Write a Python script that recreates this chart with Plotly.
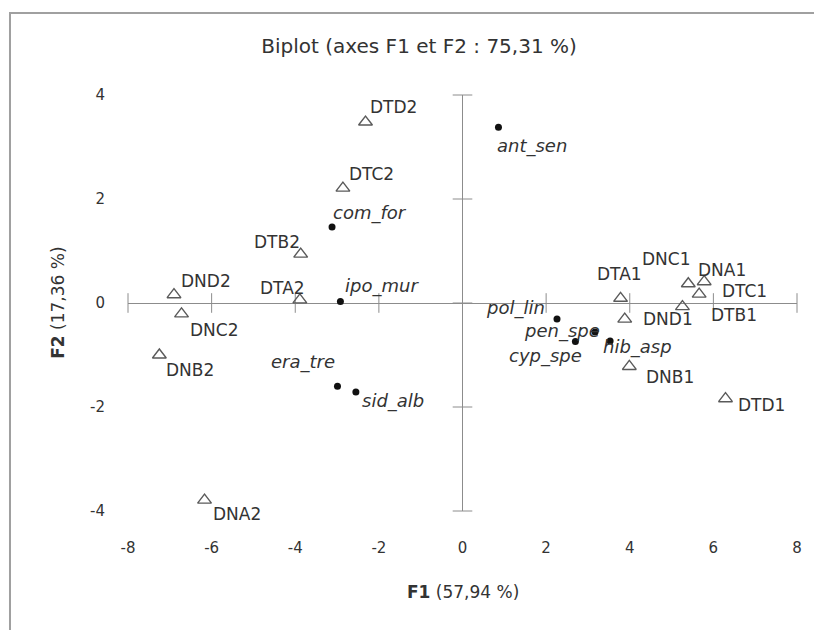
import plotly.graph_objects as go

# ---- data ----
obs_names = ["DNA1", "DNB1", "DNC1", "DND1", "DTA1", "DTB1", "DTC1", "DTD1",
             "DNA2", "DNB2", "DNC2", "DND2", "DTA2", "DTB2", "DTC2", "DTD2"]
obs_f1 = [5.78, 3.99, 5.40, 3.88, 3.78, 5.26, 5.66, 6.29,
          -6.17, -7.25, -6.72, -6.90, -3.89, -3.87, -2.86, -2.32]
obs_f2 = [0.41, -1.22, 0.37, -0.31, 0.09, -0.07, 0.17, -1.84,
          -3.79, -1.00, -0.21, 0.16, 0.06, 0.94, 2.21, 3.48]

sp_names = ["ant_sen", "com_for", "ipo_mur", "era_tre", "sid_alb",
            "pol_lin", "pen_spe", "cyp_spe", "hib_asp"]
sp_f1 = [0.86, -3.12, -2.92, -2.99, -2.55, 2.26, 3.17, 2.70, 3.53]
sp_f2 = [3.38, 1.46, 0.03, -1.60, -1.71, -0.31, -0.56, -0.74, -0.73]

x_ticks = [-8, -6, -4, -2, 0, 2, 4, 6, 8]
x_tick_labels = ["-8", "-6", "-4", "-2", "0", "2", "4", "6", "8"]
y_ticks = [-4, -2, 0, 2, 4]
y_tick_labels = ["-4", "-2", "0", "2", "4"]

title_text = "Biplot (axes F1 et F2 : 75,31 %)"
x_title = "<b>F1</b> (57,94 %)"
y_title = "<b>F2</b> (17,36 %)"

# ---- label offsets (pixels: dx right, dy down) ----
obs_off = [(18, -12), (41, 11), (-22, -25), (43, 0), (-1, -24), (52, 8), (45, -3), (36, 6),
           (32, 14), (31, 15), (33, 16), (32, -14), (-17, -12), (-24, -12), (29, -14), (28, -15)]
sp_off = [(34, 19), (38, -14), (42, -15), (-34, -24), (37, 9),
          (-42, -11), (-33, -1), (-30, 15), (27, 6)]

FONT = "DejaVu Sans"
AXIS_COL = "#8c8c8c"
TXT_COL = "#333333"

fig = go.Figure()

# crossing tick marks on the zero axes
fig.add_trace(go.Scatter(
    x=x_ticks, y=[0] * len(x_ticks), mode="markers",
    marker=dict(symbol="line-ns", size=14, line=dict(color=AXIS_COL, width=1)),
    cliponaxis=False, hoverinfo="skip", showlegend=False))
fig.add_trace(go.Scatter(
    x=[0] * len(y_ticks), y=y_ticks, mode="markers",
    marker=dict(symbol="line-ew", size=14, line=dict(color=AXIS_COL, width=1)),
    cliponaxis=False, hoverinfo="skip", showlegend=False))

# observations
fig.add_trace(go.Scatter(
    x=obs_f1, y=obs_f2, mode="markers", name="Observations",
    marker=dict(symbol="triangle-up-open", size=12, color="#5a5a5a",
                line=dict(width=1.4)),
    text=obs_names, showlegend=False))

# variables (species)
fig.add_trace(go.Scatter(
    x=sp_f1, y=sp_f2, mode="markers", name="Variables",
    marker=dict(symbol="circle", size=7, color="#111111"),
    text=sp_names, showlegend=False))

annotations = []
for n, x, y, (dx, dy) in zip(obs_names, obs_f1, obs_f2, obs_off):
    annotations.append(dict(x=x, y=y, xref="x", yref="y", text=n, showarrow=False,
                            xshift=dx, yshift=-dy,
                            font=dict(family=FONT, size=17, color=TXT_COL)))
for n, x, y, (dx, dy) in zip(sp_names, sp_f1, sp_f2, sp_off):
    annotations.append(dict(x=x, y=y, xref="x", yref="y", text="<i>%s</i>" % n,
                            showarrow=False, xshift=dx, yshift=-dy,
                            font=dict(family=FONT, size=18, color=TXT_COL)))

# axis titles
annotations.append(dict(x=0.5, y=-0.195, xref="paper", yref="paper", text=x_title,
                        showarrow=False, xanchor="center", yanchor="middle",
                        font=dict(family=FONT, size=17, color=TXT_COL)))
annotations.append(dict(x=-0.105, y=0.5, xref="paper", yref="paper", text=y_title,
                        showarrow=False, textangle=-90, xanchor="center", yanchor="middle",
                        font=dict(family=FONT, size=17, color=TXT_COL)))

# page body has an 8px margin, so the figure is sized/offset to compensate
fig.update_layout(
    width=814, height=622,
    margin=dict(l=120, r=25, t=87, b=119),
    paper_bgcolor="white", plot_bgcolor="white",
    title=dict(text=title_text, x=0.505, xanchor="center", y=0.939, yanchor="middle",
               font=dict(family=FONT, size=20, color=TXT_COL)),
    annotations=annotations,
    shapes=[dict(type="rect", xref="paper", yref="paper",
                 x0=-0.1764, y0=-0.35, x1=1.1, y1=1.197,
                 line=dict(color="#a0a0a0", width=2), fillcolor="rgba(0,0,0,0)",
                 layer="below")],
    font=dict(family=FONT, color=TXT_COL),
)

fig.update_xaxes(range=[-8, 8], tickvals=x_ticks, ticktext=x_tick_labels,
                 showgrid=False, showline=False, automargin=False,
                 zeroline=True, zerolinecolor=AXIS_COL, zerolinewidth=1,
                 ticks="", ticklabelstandoff=26,
                 tickfont=dict(family=FONT, size=15, color=TXT_COL), fixedrange=True)
fig.update_yaxes(range=[-4, 4], tickvals=y_ticks, ticktext=y_tick_labels,
                 showgrid=False, showline=False, automargin=False,
                 zeroline=True, zerolinecolor=AXIS_COL, zerolinewidth=1,
                 ticks="", ticklabelstandoff=22,
                 tickfont=dict(family=FONT, size=15, color=TXT_COL), fixedrange=True)

fig.write_html("out.html")
